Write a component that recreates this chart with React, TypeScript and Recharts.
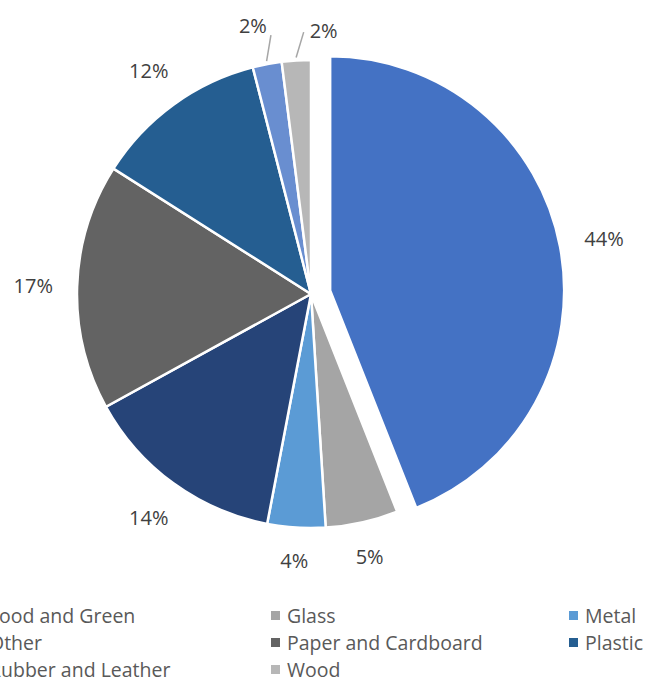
import React from "react";
import { PieChart, Pie, Cell, Legend } from "recharts";

const categories = [
  "Food and Green",
  "Glass",
  "Metal",
  "Other",
  "Paper and Cardboard",
  "Plastic",
  "Rubber and Leather",
  "Wood",
];
const shares = [44, 5, 4, 14, 17, 12, 2, 2];
const colors = ["#4472C4", "#A5A5A5", "#5B9BD5", "#264478", "#636363", "#255E91", "#698ED0", "#B7B7B7"];

const data = categories.map((name, i) => ({ name, value: shares[i] }));
const total = shares.reduce((a, b) => a + b, 0);

const W = 654;
const H = 681;
const CX = 311;
const CY = 294;
const R = 234;
const EXPLODE = 19.5;
const FONT = "'Open Sans', sans-serif";
const FS = 20;
const LEGEND_FS = 19.5;
const RAD = Math.PI / 180;

// exploded slice centre, pushed out along its bisector
const foodMid = 90 - (shares[0] / total) * 180;
const CX2 = CX + EXPLODE * Math.cos(foodMid * RAD);
const CY2 = CY - EXPLODE * Math.sin(foodMid * RAD);

const polar = (cx: number, cy: number, r: number, a: number) => ({
  x: cx + r * Math.cos(a * RAD),
  y: cy - r * Math.sin(a * RAD),
});

function renderLabel(show: (i: number) => boolean) {
  return (p: any) => {
    const { cx, cy, midAngle, outerRadius, percent, index } = p;
    if (!show(index)) return null;
    const text = `${Math.round(percent * 100)}%`;
    const small = percent < 0.03;
    if (small) {
      const start = polar(cx, cy, outerRadius + 3, midAngle);
      const end = polar(cx, cy, outerRadius + 28, midAngle - 2);
      const next = (index + 1) % shares.length;
      const left = shares[next] / total < 0.03;
      return (
        <g>
          <line x1={start.x} y1={start.y} x2={end.x} y2={end.y} stroke="#A6A6A6" strokeWidth={1.5} />
          <text
            x={left ? end.x - 4 : end.x + 6}
            y={left ? end.y - 10 : end.y - 2}
            textAnchor={left ? "end" : "start"}
            dominantBaseline="central"
            fontFamily={FONT}
            fontSize={FS}
            fill="#404040"
          >
            {text}
          </text>
        </g>
      );
    }
    const halfW = (FS * (0.572 * (text.length - 1) + 0.82)) / 2;
    const halfH = 8;
    const c = Math.abs(Math.cos(midAngle * RAD));
    const s = Math.abs(Math.sin(midAngle * RAD));
    const pos = polar(cx, cy, outerRadius + 24 + c * halfW + s * halfH, midAngle);
    return (
      <text
        x={pos.x}
        y={pos.y}
        textAnchor="middle"
        dominantBaseline="central"
        fontFamily={FONT}
        fontSize={FS}
        fill="#404040"
      >
        {text}
      </text>
    );
  };
}

function LegendBox() {
  return (
    <div
      style={{
        position: "relative",
        width: W,
        height: 81,
        fontFamily: FONT,
        fontSize: LEGEND_FS,
        color: "#595959",
      }}
    >
      {categories.map((name, i) => {
        const row = Math.floor(i / 3);
        const col = i % 3;
        return (
          <div
            key={name}
            style={{
              position: "absolute",
              left: -27 + col * 298,
              top: row * 27,
              height: 27,
              display: "flex",
              alignItems: "center",
              whiteSpace: "nowrap",
            }}
          >
            <span style={{ width: 9, height: 9, background: colors[i], marginRight: 7, display: "inline-block" }} />
            <span>{name}</span>
          </div>
        );
      })}
    </div>
  );
}

export default function App() {
  return (
    <div style={{ position: "absolute", left: 0, top: 0, width: W, height: H, background: "#fff", fontFamily: FONT }}>
      <PieChart width={W} height={H} margin={{ top: 0, right: 0, bottom: 0, left: 0 }}>
        <Pie
          data={data}
          dataKey="value"
          nameKey="name"
          cx={CX}
          cy={CY}
          outerRadius={R}
          startAngle={90}
          endAngle={-270}
          stroke="#fff"
          strokeWidth={2.5}
          label={renderLabel((i) => i !== 0)}
          labelLine={false}
          isAnimationActive={false}
        >
          {data.map((d, i) => (
            <Cell key={d.name} fill={i === 0 ? "none" : colors[i]} stroke={i === 0 ? "none" : "#fff"} />
          ))}
        </Pie>
        <Pie
          data={data}
          dataKey="value"
          nameKey="name"
          cx={CX2}
          cy={CY2}
          outerRadius={R}
          startAngle={90}
          endAngle={-270}
          stroke="#fff"
          strokeWidth={2.5}
          label={renderLabel((i) => i === 0)}
          labelLine={false}
          legendType="none"
          isAnimationActive={false}
        >
          {data.map((d, i) => (
            <Cell key={d.name} fill={i === 0 ? colors[0] : "none"} stroke={i === 0 ? "#fff" : "none"} />
          ))}
        </Pie>
        <Legend content={() => <LegendBox />} wrapperStyle={{ left: 0, top: 601.5, width: W, height: 81 }} />
      </PieChart>
    </div>
  );
}
